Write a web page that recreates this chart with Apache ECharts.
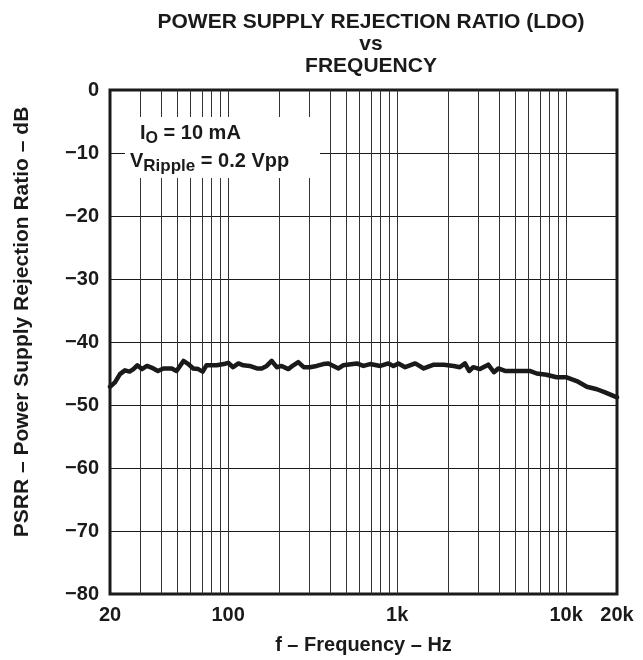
<!DOCTYPE html>
<html>
<head>
<meta charset="utf-8">
<script src="https://cdn.jsdelivr.net/npm/echarts@6/dist/echarts.min.js"></script>
<style>
html,body{margin:0;padding:0;background:#fff;}
#c{width:643px;height:660px;}
</style>
</head>
<body>
<div id="c"></div>
<script>
// Frequency (Hz) of the PSRR curve points
const freqHz = [20, 21.4, 22.9, 24.5, 26.1, 27.5, 29.0, 30.9, 33.1, 36.1, 38.4, 41.4, 46.4, 49.5, 54.4, 58.2, 62.2, 66.6, 70.7, 74.4,
  85.5, 94.3, 100, 107, 115, 123, 134, 148, 158, 169, 181, 194, 207, 227, 243, 260, 280, 305, 334, 366,
  392, 420, 450, 479, 577, 632, 692, 795, 888, 951, 1018, 1116, 1280, 1437, 1649, 1890, 2162, 2348, 2520, 2669,
  2822, 3090, 3460, 3740, 3970, 4350, 5100, 6100, 6690, 7650, 8780, 10070, 11560, 13260, 15210, 17000, 20000];
// PSRR (dB)
const psrrDb = [-47.1, -46.4, -45.1, -44.5, -44.7, -44.3, -43.7, -44.3, -43.8, -44.2, -44.6, -44.2, -44.2, -44.6, -43.0, -43.5, -44.2, -44.3, -44.7, -43.7,
  -43.7, -43.5, -43.3, -44.0, -43.4, -43.7, -43.8, -44.2, -44.2, -43.8, -43.0, -44.0, -43.8, -44.3, -43.7, -43.2, -44.0, -44.0, -43.8, -43.5,
  -43.4, -43.8, -44.2, -43.7, -43.4, -43.8, -43.5, -43.8, -43.4, -43.8, -43.4, -44.0, -43.4, -44.2, -43.6, -43.6, -43.8, -44.0, -43.4, -44.6,
  -44.0, -44.3, -43.6, -44.8, -44.2, -44.6, -44.6, -44.6, -45.0, -45.2, -45.6, -45.6, -46.2, -47.1, -47.5, -48.0, -48.8];
// vertical log grid line positions (Hz)
const gridFreqs = [30, 40, 50, 60, 70, 80, 90, 100, 200, 300, 400, 500, 600, 700, 800, 900,
  1000, 2000, 3000, 4000, 5000, 6000, 7000, 8000, 9000, 10000];
// axis ranges
const xRange = [20, 20000];
const yRange = [-80, 0];
const yStep = 10;

const FONT = "'Liberation Sans', Arial, Helvetica, sans-serif";
const INK = '#1a1a1a';

const chart = echarts.init(document.getElementById('c'), null, {renderer: 'canvas'});
const curve = freqHz.map((f, i) => [f, psrrDb[i]]);

chart.setOption({
  animation: false,
  backgroundColor: '#fff',
  title: {
    text: 'POWER SUPPLY REJECTION RATIO (LDO)\nvs\nFREQUENCY',
    left: 366, top: 6, textAlign: 'center',
    textStyle: {fontFamily: FONT, fontWeight: 'bold', fontSize: 21, lineHeight: 22, color: INK}
  },
  grid: {left: 110, right: 26, top: 90, bottom: 64, show: true, borderColor: INK, borderWidth: 3, backgroundColor: 'transparent'},
  xAxis: {
    type: 'log', logBase: 10, min: xRange[0], max: xRange[1],
    name: 'f \u2013 Frequency \u2013 Hz', nameLocation: 'middle', nameGap: 41,
    nameTextStyle: {fontFamily: FONT, fontWeight: 'bold', fontSize: 20, color: INK},
    axisLine: {show: false}, axisTick: {show: false}, splitLine: {show: false}, minorTick: {show: false},
    axisLabel: {
      margin: 11, fontFamily: FONT, fontWeight: 'bold', fontSize: 20, color: INK,
      formatter: v => { const r = Math.round(v); return r >= 1000 ? (r / 1000) + 'k' : String(r); }
    }
  },
  yAxis: {
    type: 'value', min: yRange[0], max: yRange[1], interval: yStep,
    axisLine: {show: false}, axisTick: {show: false},
    splitLine: {show: true, lineStyle: {color: INK, width: 1}},
    axisLabel: {
      margin: 11, fontFamily: FONT, fontWeight: 'bold', fontSize: 20, color: INK,
      formatter: v => v === 0 ? '0' : '\u2212' + Math.abs(v)
    }
  },
  series: [
    {
      type: 'line', data: [], silent: true,
      markLine: {
        silent: true, symbol: ['none', 'none'], label: {show: false},
        lineStyle: {color: '#333', width: 1, type: 'solid'},
        emphasis: {disabled: true},
        data: gridFreqs.map(f => ({xAxis: f}))
      }
    },
    {
      type: 'line', data: curve, showSymbol: false, symbol: 'none', smooth: false,
      lineStyle: {color: INK, width: 4.5, join: 'round', cap: 'round'}, z: 5
    }
  ],
  graphic: [
    {
      type: 'text', x: 22, y: 322, rotation: Math.PI / 2, silent: true,
      style: {
        text: 'PSRR \u2013 Power Supply Rejection Ratio \u2013 dB',
        fontFamily: FONT, fontWeight: 'bold', fontSize: 21, fill: INK,
        align: 'center', verticalAlign: 'middle'
      }
    },
    {type: 'rect', shape: {x: 125, y: 117, width: 195, height: 61}, style: {fill: '#fff'}, z: 100, silent: true},
    {
      type: 'text', x: 140, y: 119, z: 101, silent: true,
      style: {
        text: '{b|I}{s|O}{b| = 10 mA}',
        rich: {
          b: {fontFamily: FONT, fontWeight: 'bold', fontSize: 20, lineHeight: 28, fill: INK},
          s: {fontFamily: FONT, fontWeight: 'bold', fontSize: 16, lineHeight: 15, verticalAlign: 'bottom', fill: INK}
        }
      }
    },
    {
      type: 'text', x: 130, y: 147, z: 101, silent: true,
      style: {
        text: '{b|V}{s|Ripple}{b| = 0.2 Vpp}',
        rich: {
          b: {fontFamily: FONT, fontWeight: 'bold', fontSize: 20, lineHeight: 28, fill: INK},
          s: {fontFamily: FONT, fontWeight: 'bold', fontSize: 17, lineHeight: 15, verticalAlign: 'bottom', fill: INK}
        }
      }
    }
  ]
});
</script>
</body>
</html>
